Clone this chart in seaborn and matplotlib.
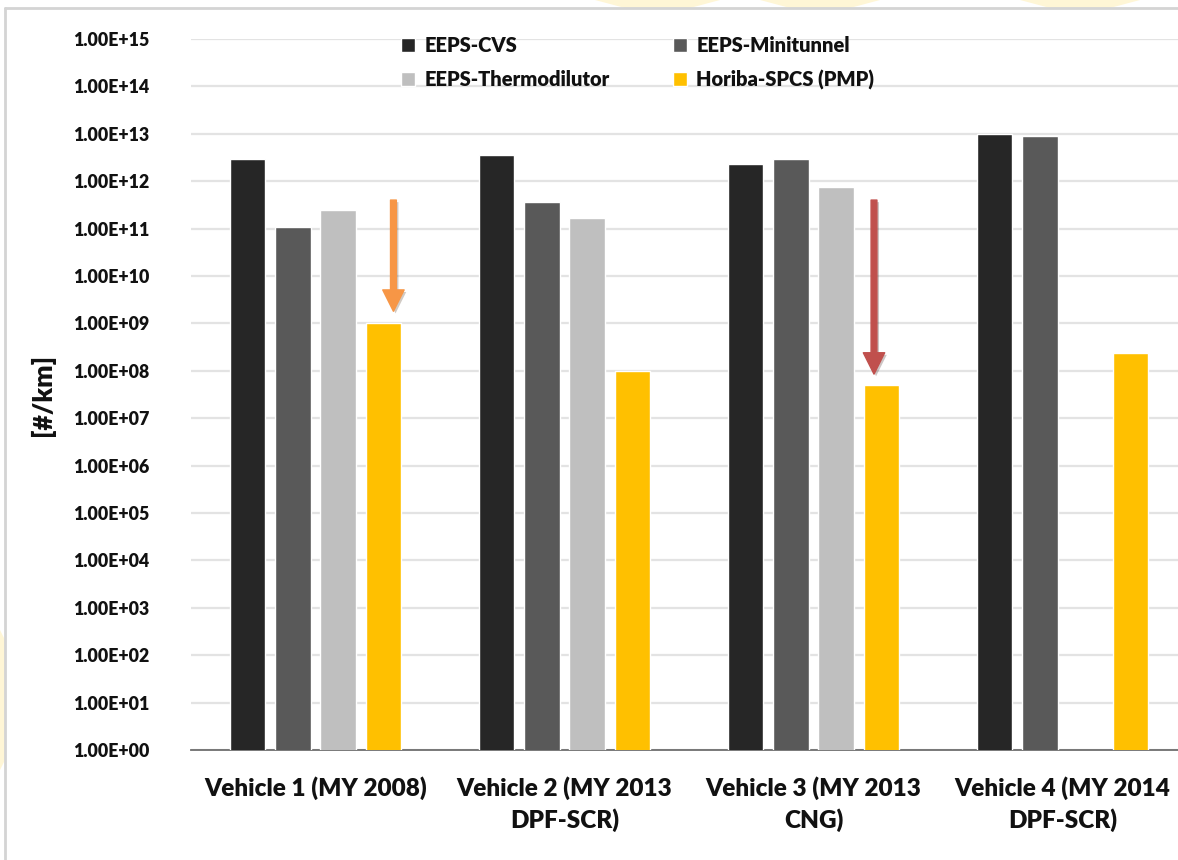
import numpy as np
import pandas as pd
import matplotlib
matplotlib.use("Agg")
import matplotlib.pyplot as plt
import matplotlib.patheffects as pe
from matplotlib.patches import Polygon, FancyArrowPatch
from matplotlib.ticker import FixedLocator, FuncFormatter, NullLocator
import seaborn as sns

# Particle number emissions per vehicle and sampling setup
vehicles = ["Vehicle 1 (MY 2008)", "Vehicle 2 (MY 2013\nDPF-SCR)",
            "Vehicle 3 (MY 2013\nCNG)", "Vehicle 4 (MY 2014\nDPF-SCR)"]
series = ["EEPS-CVS", "EEPS-Minitunnel", "EEPS-Thermodilutor", "Horiba-SPCS (PMP)"]
eeps_cvs = [2.9e12, 3.5e12, 2.3e12, 1.0e13]
eeps_minitunnel = [1.07e11, 3.6e11, 2.9e12, 9.0e12]
eeps_thermodilutor = [2.5e11, 1.7e11, 7.6e11, np.nan]
horiba_spcs = [1.0e9, 1.0e8, 5.0e7, 2.4e8]
colors = ["#262626", "#595959", "#BFBFBF", "#FFC000"]
ytick_values = [10.0 ** k for k in range(0, 16)]

values = [eeps_cvs, eeps_minitunnel, eeps_thermodilutor, horiba_spcs]
df = pd.DataFrame({
    "vehicle": vehicles * len(series),
    "series": np.repeat(series, len(vehicles)),
    "value": np.concatenate(values),
})

sns.set_theme(style="white")
plt.rcParams["font.family"] = ["Lato", "DejaVu Sans"]
plt.rcParams["font.weight"] = "heavy"

TXT = "#111111"
W = "heavy"

fig = plt.figure(figsize=(11.78, 8.6), dpi=100)
fig.patch.set_facecolor("white")

# faint background shapes around the chart frame
for xs in [(595, 625, 690, 720), (760, 790, 850, 880), (1020, 1050, 1110, 1140)]:
    pts = [(xs[0] / 1178, 1.0), (xs[3] / 1178, 1.0),
           (xs[2] / 1178, 1 - 8 / 860), (xs[1] / 1178, 1 - 8 / 860)]
    fig.patches.append(Polygon(pts, closed=True, transform=fig.transFigure,
                               facecolor="#FFF6D6", edgecolor="none", zorder=0))
fig.patches.append(Polygon([(0, 1 - 630 / 860), (5 / 1178, 1 - 640 / 860),
                            (5 / 1178, 1 - 760 / 860), (0, 1 - 770 / 860)],
                           closed=True, transform=fig.transFigure,
                           facecolor="#FFF6D6", edgecolor="none", zorder=0))

# light frame around the chart area
frame_x = 5 / 1178
frame_y = 1 - 8 / 860
fig.add_artist(plt.Line2D([frame_x, 1.0], [frame_y, frame_y], transform=fig.transFigure,
                          color="#D4D4D4", linewidth=2, zorder=1))
fig.add_artist(plt.Line2D([frame_x, frame_x], [0, frame_y], transform=fig.transFigure,
                          color="#D4D4D4", linewidth=2, zorder=1))

ax = fig.add_axes([191 / 1178, 110 / 860, 996 / 1178, 711 / 860])
ax.set_facecolor("none")
ax.set_yscale("log")

sns.barplot(data=df, x="vehicle", y="value", hue="series", order=vehicles,
            hue_order=series, palette=colors, errorbar=None, width=0.728,
            gap=0.216, saturation=1.0, ax=ax, zorder=3)

ax.set_ylim(1, 1e15)
ax.set_xlim(-0.5, 3.5)
ax.yaxis.set_major_locator(FixedLocator(ytick_values))
ax.yaxis.set_minor_locator(NullLocator())
ax.yaxis.set_major_formatter(FuncFormatter(lambda v, p: f"{v:.2E}"))
ax.grid(axis="y", color="#E3E3E3", linewidth=1.6, zorder=0)
ax.set_axisbelow(True)

for side in ["left", "right", "top"]:
    ax.spines[side].set_visible(False)
ax.spines["bottom"].set_color("#6E6E6E")
ax.spines["bottom"].set_linewidth(1.3)

# category boundary ticks on the x axis
ax.set_xticks([0, 1, 2, 3])
ax.set_xticklabels(vehicles, fontsize=17.5, fontweight=W, color=TXT,
                   linespacing=1.42)
ax.set_xticks([-0.5, 0.5, 1.5, 2.5, 3.5], minor=True)
ax.tick_params(axis="x", which="major", length=0, pad=19)
ax.tick_params(axis="x", which="minor", length=9, width=1.2, color="#6E6E6E",
               direction="out")
ax.tick_params(axis="y", length=0, pad=30, labelsize=12.8, labelcolor=TXT)
for lab in ax.get_yticklabels():
    lab.set_fontweight(W)

ax.set_xlabel("")
ax.set_ylabel("[#/km]", fontsize=19, fontweight=W, color=TXT, labelpad=13)

# legend in two rows at the top of the plot
handles, labels = ax.get_legend_handles_labels()
idx = [0, 2, 1, 3]
leg = ax.legend([handles[i] for i in idx], [labels[i] for i in idx], ncol=2,
                loc="upper left", bbox_to_anchor=(0.193, 1.03), frameon=False,
                handlelength=0.7, handleheight=0.7,
                handletextpad=0.45, columnspacing=3.15, labelspacing=0.75,
                prop={"weight": W, "size": 14.5})
for t in leg.get_texts():
    t.set_color(TXT)

# arrows marking the drop to the PMP-compliant measurement
shadow = [pe.SimplePatchShadow(offset=(1.5, -1.5), alpha=0.25), pe.Normal()]
for x, y0, y1, col in [(0.313, 4e11, 1.8e9, "#F79646"), (2.243, 4e11, 8.5e7, "#C0504D")]:
    arr = FancyArrowPatch((x, y0), (x, y1),
                          arrowstyle="simple,head_width=1.1,head_length=1.1,tail_width=0.3",
                          mutation_scale=14, color=col, zorder=5, shrinkA=0, shrinkB=0)
    arr.set_path_effects(shadow)
    ax.add_patch(arr)

fig.savefig("out.png", dpi=100, facecolor="white")
